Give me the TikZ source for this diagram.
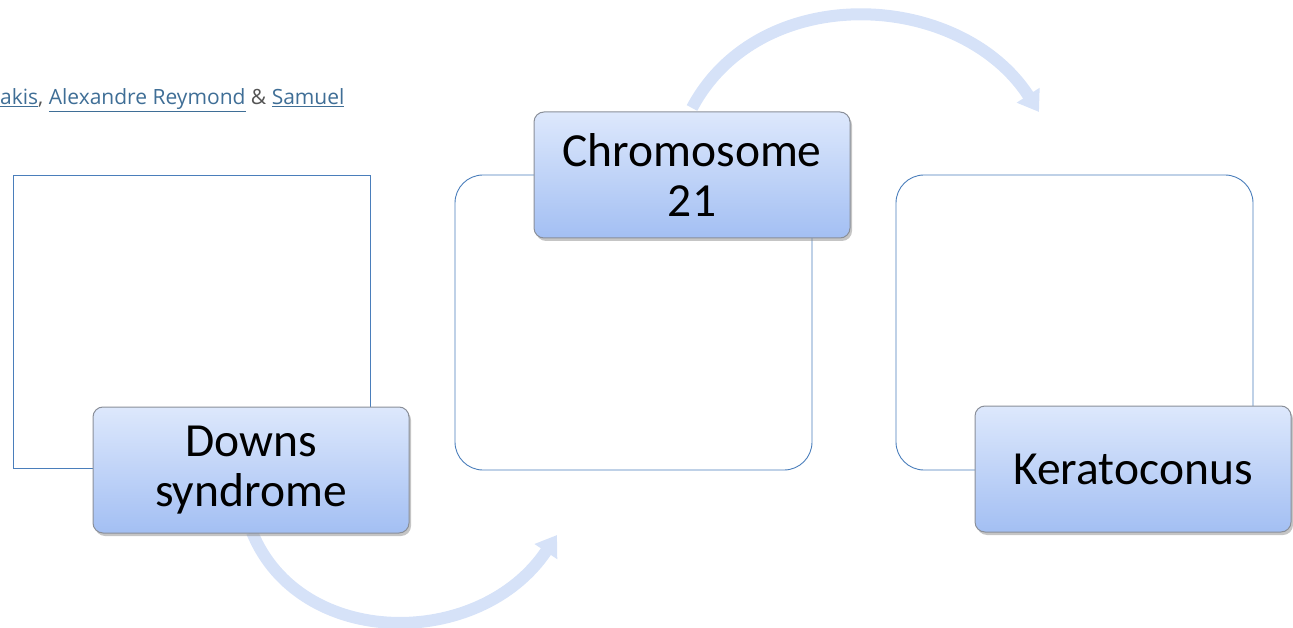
\documentclass[tikz,border=0pt]{standalone}
\usepackage{fontspec}
\setmainfont{Carlito}
\newfontfamily\authorfont{Open Sans}
\usetikzlibrary{arrows.meta,shadows}
\definecolor{outl}{HTML}{4A7EBB}
\definecolor{boxtop}{HTML}{DDE8FC}
\definecolor{boxbot}{HTML}{A3BFF3}
\definecolor{boxedge}{HTML}{8A8F99}
\definecolor{arrowc}{HTML}{D6E2F8}
\definecolor{linkc}{HTML}{3F6E96}
\definecolor{ampc}{HTML}{555555}
\tikzset{
  outlinebox/.style={draw=outl, line width=0.9pt},
  labelbox/.style={draw=boxedge, line width=1pt, rounded corners=10pt,
    top color=boxtop, bottom color=boxbot, minimum width=316pt, minimum height=126pt,
    align=center, font=\fontsize{47.5}{50}\selectfont,
    drop shadow={shadow xshift=2pt, shadow yshift=-3pt, fill=black!45, opacity=0.5}},
  flowarrow/.style={line width=12pt, draw=arrowc, -{Triangle[length=20pt,width=26pt]}},
}
\begin{document}
\begin{tikzpicture}[x=1pt,y=-1pt]
\useasboundingbox (0,0) rectangle (1293,628);
% author line
\node[anchor=base west, inner sep=0pt, font=\authorfont\fontsize{21}{24}\selectfont] (authors) at (0,105)
  {\textcolor{linkc}{\underline{akis}}\textcolor{ampc}{,} \textcolor{linkc}{\underline{Alexandre Reymond}} \textcolor{ampc}{\&} \textcolor{linkc}{\underline{Samuel}}};
% outline boxes
\node[outlinebox, minimum width=357pt, minimum height=293pt, inner sep=0pt] (frameA) at (191.5,321.5) {};
\node[outlinebox, rounded corners=28pt, minimum width=357pt, minimum height=295pt, inner sep=0pt] (frameB) at (633.5,322.5) {};
\node[outlinebox, rounded corners=28pt, minimum width=357pt, minimum height=295pt, inner sep=0pt] (frameC) at (1074.5,322.5) {};
% arrows
\coordinate (a1s) at (252,532);
\coordinate (a1e) at (557,535);
\coordinate (a2s) at (692,108);
\coordinate (a2e) at (1039,112);
\draw[flowarrow] (a1s) .. controls (300,650) and (480,650) .. (a1e);
\draw[flowarrow] (a2s) .. controls (760,-20) and (960,-10) .. (a2e);
% label boxes
\node[labelbox] (downs) at (251,470) {Downs\\syndrome};
\node[labelbox] (chrom) at (692,175) {Chromosome\\21};
\node[labelbox] (kera) at (1133,469) {Keratoconus};
\end{tikzpicture}
\end{document}
